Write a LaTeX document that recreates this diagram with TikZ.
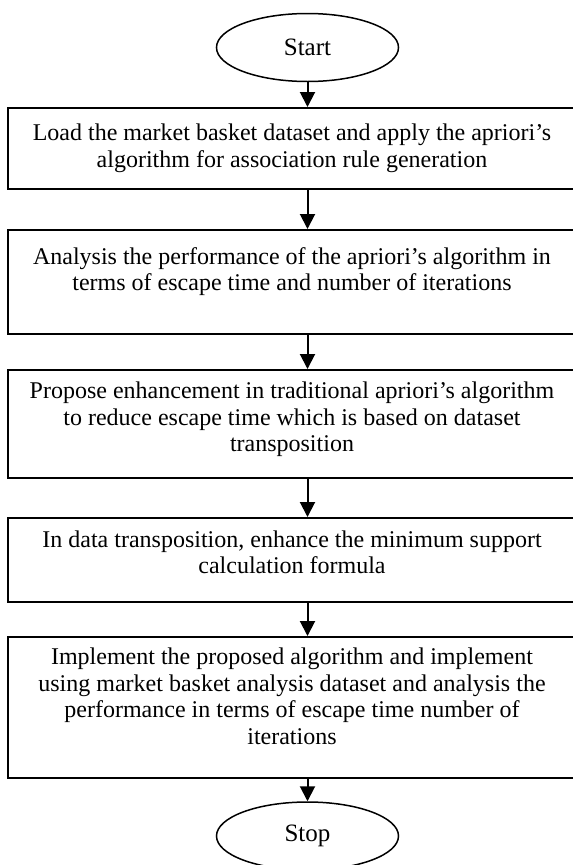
\documentclass[tikz,border=0pt]{standalone}
\usepackage{fontspec}
\setmainfont{Liberation Serif}
\usetikzlibrary{shapes.geometric, arrows.meta, positioning}
\tikzset{
  terminal/.style={ellipse, draw, line width=1.5pt, minimum width=182pt, minimum height=68pt, inner sep=0pt, font=\fontsize{25}{27}\selectfont},
  stepbox/.style={rectangle, draw, line width=2pt, minimum width=568pt, inner sep=0pt, align=center, font=\fontsize{24}{26.5}\selectfont},
  arr/.style={-{Triangle[length=15pt, width=15pt]}, line width=2pt}
}

\begin{document}
\begin{tikzpicture}[x=1pt, y=-1pt]
  \useasboundingbox (0,0) rectangle (573,865);

  \node[terminal] (start) at (307.5,47.5) {Start};

  \node[stepbox, minimum height=81pt, text depth=6pt] (load) at (292,148.5)
    {Load the market basket dataset and apply the apriori's\\algorithm for association rule generation};
  \node[stepbox, minimum height=104pt, text depth=26pt, below=39pt of load] (perf)
    {Analysis the performance of the apriori's algorithm in\\terms of escape time and number of iterations};
  \node[stepbox, minimum height=108pt, text depth=14pt, below=34pt of perf] (enh)
    {Propose enhancement in traditional apriori's algorithm\\to reduce escape time which is based on dataset\\transposition};
  \node[stepbox, minimum height=84pt, text depth=16pt, below=38pt of enh] (supp)
    {In data transposition, enhance the minimum support\\calculation formula};
  \node[stepbox, minimum height=141pt, text depth=23pt, below=33pt of supp] (impl)
    {Implement the proposed algorithm and implement\\using market basket analysis dataset and analysis the\\performance in terms of escape time number of\\iterations};

  \node[terminal] (stop) at (307.5,836) {Stop};

  \draw[arr] (start) -- (start |- load.north);
  \draw[arr] (load.south -| start) -- (perf.north -| start);
  \draw[arr] (perf.south -| start) -- (enh.north -| start);
  \draw[arr] (enh.south -| start) -- (supp.north -| start);
  \draw[arr] (supp.south -| start) -- (impl.north -| start);
  \draw[arr] (impl.south -| start) -- (stop);

\end{tikzpicture}
\end{document}
